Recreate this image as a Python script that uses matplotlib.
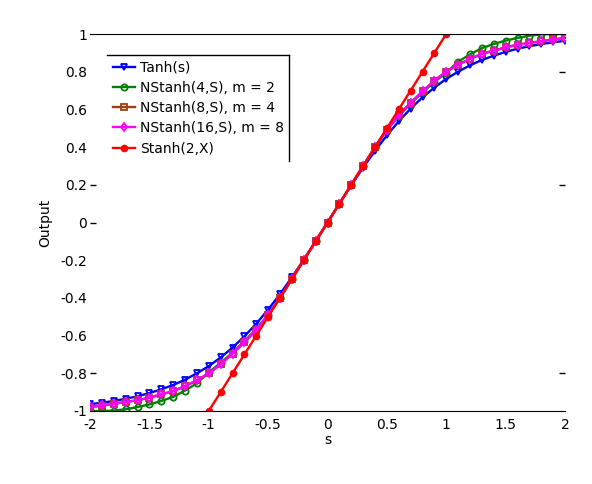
#!/usr/bin/env python3
"""Tanh vs. segmented tanh approximations, MATLAB-style figure."""

import matplotlib

matplotlib.use("Agg")
import matplotlib.pyplot as plt
from matplotlib.lines import Line2D

s = [-2.0, -1.9, -1.8, -1.7, -1.6, -1.5, -1.4, -1.3, -1.2, -1.1, -1.0,
     -0.9, -0.8, -0.7, -0.6, -0.5, -0.4, -0.3, -0.2, -0.1, 0.0,
     0.1, 0.2, 0.3, 0.4, 0.5, 0.6, 0.7, 0.8, 0.9, 1.0,
     1.1, 1.2, 1.3, 1.4, 1.5, 1.6, 1.7, 1.8, 1.9, 2.0]

tanh_s = [-0.964, -0.956, -0.947, -0.935, -0.922, -0.905, -0.885, -0.862, -0.834, -0.800, -0.762,
          -0.716, -0.664, -0.604, -0.537, -0.462, -0.380, -0.291, -0.197, -0.100, 0.0,
          0.100, 0.197, 0.291, 0.380, 0.462, 0.537, 0.604, 0.664, 0.716, 0.762,
          0.800, 0.834, 0.862, 0.885, 0.905, 0.922, 0.935, 0.947, 0.956, 0.964]

nstanh4 = [-1.000, -1.000, -0.998, -0.991, -0.979, -0.965, -0.947, -0.925, -0.892, -0.853, -0.795,
           -0.745, -0.690, -0.630, -0.565, -0.490, -0.400, -0.300, -0.200, -0.100, 0.0,
           0.100, 0.200, 0.300, 0.400, 0.490, 0.565, 0.630, 0.690, 0.745, 0.795,
           0.853, 0.892, 0.925, 0.947, 0.965, 0.979, 0.991, 0.998, 1.000, 1.000]

nstanh8 = [-0.980, -0.971, -0.962, -0.953, -0.943, -0.930, -0.912, -0.895, -0.868, -0.838, -0.801,
           -0.753, -0.696, -0.636, -0.571, -0.492, -0.401, -0.300, -0.200, -0.100, 0.0,
           0.100, 0.200, 0.300, 0.401, 0.492, 0.571, 0.636, 0.696, 0.753, 0.801,
           0.838, 0.868, 0.895, 0.912, 0.930, 0.943, 0.953, 0.962, 0.971, 0.980]

nstanh16 = [-0.979, -0.970, -0.961, -0.952, -0.942, -0.929, -0.911, -0.894, -0.867, -0.837, -0.800,
            -0.752, -0.695, -0.635, -0.570, -0.490, -0.400, -0.300, -0.200, -0.100, 0.0,
            0.100, 0.200, 0.300, 0.400, 0.490, 0.570, 0.635, 0.695, 0.752, 0.800,
            0.837, 0.867, 0.894, 0.911, 0.929, 0.942, 0.952, 0.961, 0.970, 0.979]

x_stanh2 = [-1.0, -0.9, -0.8, -0.7, -0.6, -0.5, -0.4, -0.3, -0.2, -0.1, 0.0,
            0.1, 0.2, 0.3, 0.4, 0.5, 0.6, 0.7, 0.8, 0.9, 1.0]
stanh2 = [-1.0, -0.9, -0.8, -0.7, -0.6, -0.5, -0.4, -0.3, -0.2, -0.1, 0.0,
          0.1, 0.2, 0.3, 0.4, 0.5, 0.6, 0.7, 0.8, 0.9, 1.0]

x_ticks = [-2, -1.5, -1, -0.5, 0, 0.5, 1, 1.5, 2]
x_tick_labels = ["-2", "-1.5", "-1", "-0.5", "0", "0.5", "1", "1.5", "2"]
y_ticks = [-1, -0.8, -0.6, -0.4, -0.2, 0, 0.2, 0.4, 0.6, 0.8, 1]
y_tick_labels = ["-1", "-0.8", "-0.6", "-0.4", "-0.2", "0", "0.2", "0.4", "0.6", "0.8", "1"]

plt.rcParams.update({"font.family": "DejaVu Sans", "font.size": 10})

W, H = 592, 484
fig = plt.figure(figsize=(W / 100, H / 100), dpi=100)
ax = fig.add_axes([90 / W, 1 - 411 / H, 475 / W, 377 / H])

common = dict(linewidth=1.7, markersize=4.5, markeredgewidth=1.3)
ax.plot(s, tanh_s, color="#0000ff", marker="v", markerfacecolor="none", label="Tanh(s)", **common)
ax.plot(s, nstanh4, color="#008000", marker="o", markerfacecolor="none", label="NStanh(4,S), m = 2", **common)
ax.plot(s, nstanh8, color="#a0400c", marker="s", markerfacecolor="none", label="NStanh(8,S), m = 4", **common)
ax.plot(s, nstanh16, color="#ff00ff", marker="d", markerfacecolor="none", label="NStanh(16,S), m = 8", **common)
ax.plot(x_stanh2, stanh2, color="#ff0000", marker="o", markersize=4.5, linewidth=1.7, label="Stanh(2,X)")

ax.set_xlim(-2, 2)
ax.set_ylim(-1, 1)
ax.set_xticks(x_ticks, x_tick_labels)
ax.set_yticks(y_ticks, y_tick_labels)
ax.set_xlabel("s", labelpad=1)
ax.set_ylabel("Output", labelpad=6)

ax.spines["left"].set_visible(False)
ax.spines["right"].set_visible(False)
ax.tick_params(axis="x", length=0, pad=5)
ax.tick_params(axis="y", direction="in", length=4, pad=2, right=True, width=1)

left_marks = [0.2, 0, -0.8]
right_marks = [0.8, 0.2, -0.8]
for val, tick in zip(y_ticks, ax.yaxis.get_major_ticks()):
    tick.tick1line.set_visible(val in left_marks)
    tick.tick2line.set_visible(val in right_marks)

leg = ax.legend(
    loc="upper left",
    bbox_to_anchor=(107 / W, 1 - 55 / H),
    bbox_transform=fig.transFigure,
    frameon=False,
    borderpad=0.4,
    handlelength=1.65,
    handletextpad=0.3,
    labelspacing=0.45,
    borderaxespad=0,
)

# MATLAB export only drew the top and right edges of the legend box
fig.canvas.draw()
bb = leg.get_window_extent().transformed(fig.transFigure.inverted())
fig.add_artist(Line2D([bb.x0, bb.x1], [bb.y1, bb.y1], color="black", linewidth=1, transform=fig.transFigure))
fig.add_artist(Line2D([bb.x1, bb.x1], [bb.y0, bb.y1], color="black", linewidth=1, transform=fig.transFigure))

fig.savefig("out.png", dpi=100)
plt.close(fig)
